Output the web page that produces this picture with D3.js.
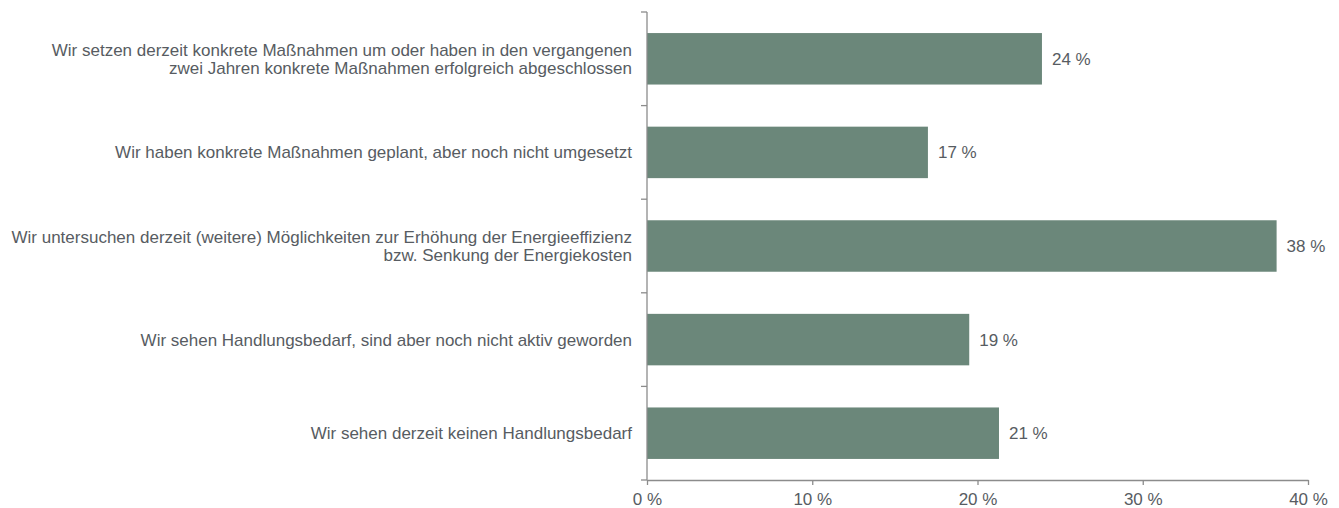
<!DOCTYPE html>
<html>
<head>
<meta charset="utf-8">
<script src="https://cdn.jsdelivr.net/npm/d3@7"></script>
<style>
  html, body { margin: 0; padding: 0; background: #ffffff; }
  svg { display: block; }
  text { font-family: "Liberation Sans", Arial, sans-serif; }
</style>
</head>
<body>
<script>
const categories = [
  ["Wir setzen derzeit konkrete Maßnahmen um oder haben in den vergangenen", "zwei Jahren konkrete Maßnahmen erfolgreich abgeschlossen"],
  ["Wir haben konkrete Maßnahmen geplant, aber noch nicht umgesetzt"],
  ["Wir untersuchen derzeit (weitere) Möglichkeiten zur Erhöhung der Energieeffizienz", "bzw. Senkung der Energiekosten"],
  ["Wir sehen Handlungsbedarf, sind aber noch nicht aktiv geworden"],
  ["Wir sehen derzeit keinen Handlungsbedarf"]
];
const values = [23.9, 17.0, 38.1, 19.5, 21.3];
const valueLabels = ["24 %", "17 %", "38 %", "19 %", "21 %"];
const xTicks = [0, 10, 20, 30, 40];

const W = 1339, H = 508;
const margin = { left: 647, right: 31, top: 12, bottom: 28 };
const fontSize = 17;
const textColor = "#575c62";
const axisColor = "#8c8c8c";
const barColor = "#6b877a";

const svg = d3.select("body").append("svg").attr("width", W).attr("height", H);

const x = d3.scaleLinear().domain([0, 40]).range([margin.left, W - margin.right]);
const y = d3.scaleBand().domain(d3.range(categories.length))
  .range([margin.top, H - margin.bottom]).paddingInner(0.45).paddingOuter(0.225);

// bars
svg.selectAll("rect.bar").data(values).join("rect")
  .attr("class", "bar")
  .attr("x", x(0))
  .attr("y", (d, i) => y(i))
  .attr("width", d => x(d) - x(0))
  .attr("height", y.bandwidth())
  .attr("fill", barColor);

// x axis
const xAxis = svg.append("g")
  .attr("transform", `translate(0,${H - margin.bottom})`)
  .call(d3.axisBottom(x).tickValues(xTicks).tickFormat(d => d + " %").tickSize(5).tickSizeOuter(0));
xAxis.select(".domain").attr("stroke", axisColor).attr("stroke-width", 1.3);
xAxis.selectAll(".tick line").attr("stroke", axisColor).attr("stroke-width", 1.3);
xAxis.selectAll(".tick text").attr("fill", textColor).attr("font-size", fontSize)
  .attr("font-family", "Liberation Sans, Arial, sans-serif").attr("y", 13).attr("dy", "0.71em");

// y axis with boundary ticks
const yTop = margin.top, yBot = H - margin.bottom;
const step = (yBot - yTop) / categories.length;
const boundaries = d3.range(categories.length + 1).map(i => yTop + i * step);
const yAxisG = svg.append("g");
yAxisG.append("line")
  .attr("x1", x(0)).attr("x2", x(0)).attr("y1", yTop).attr("y2", yBot)
  .attr("stroke", axisColor).attr("stroke-width", 1.3);
yAxisG.selectAll("line.bt").data(boundaries).join("line")
  .attr("class", "bt")
  .attr("x1", x(0) - 6).attr("x2", x(0)).attr("y1", d => d).attr("y2", d => d)
  .attr("stroke", axisColor).attr("stroke-width", 1.3);

// category labels
const lineH = 18.5;
svg.selectAll("text.cat").data(categories).join("text")
  .attr("class", "cat")
  .attr("text-anchor", "end")
  .attr("fill", textColor)
  .attr("font-size", fontSize)
  .each(function(lines, i) {
    const cy = y(i) + y.bandwidth() / 2;
    const t = d3.select(this);
    lines.forEach((ln, k) => {
      t.append("tspan")
        .attr("x", margin.left - 15)
        .attr("y", cy + (k - (lines.length - 1) / 2) * lineH)
        .attr("dy", "0.35em")
        .text(ln);
    });
  });

// value labels
svg.selectAll("text.val").data(values).join("text")
  .attr("class", "val")
  .attr("x", d => x(d) + 10)
  .attr("y", (d, i) => y(i) + y.bandwidth() / 2)
  .attr("dy", "0.35em")
  .attr("fill", textColor)
  .attr("font-size", fontSize)
  .text((d, i) => valueLabels[i]);
</script>
</body>
</html>
